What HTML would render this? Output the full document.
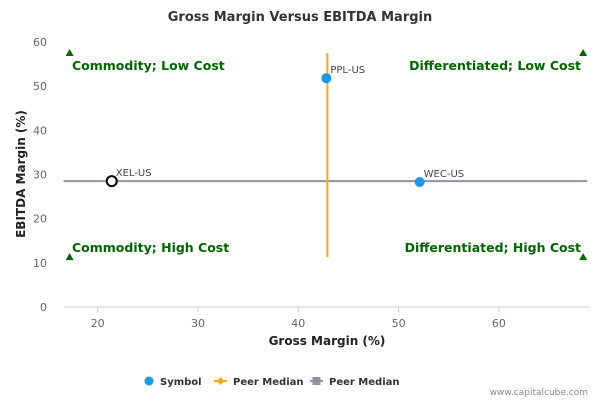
<!DOCTYPE html>
<html><head><meta charset="utf-8"><style>
body{margin:0;background:#fff}
svg{font-family:"DejaVu Sans","Liberation Sans",sans-serif}
</style></head><body>
<svg width="600" height="400" viewBox="0 0 600 400">
<rect width="600" height="400" fill="#fff"/>
<text x="300" y="21" text-anchor="middle" font-size="13" font-weight="bold" fill="#333">Gross Margin Versus EBITDA Margin</text>
<line x1="64" y1="307" x2="589" y2="307" stroke="#c0d0e0" stroke-width="1"/>
<g id="xt"></g><g id="yt"></g>
<text x="327" y="345" text-anchor="middle" font-size="12" font-weight="bold" fill="#222">Gross Margin (%)</text>
<text transform="translate(25,174) rotate(-90)" text-anchor="middle" font-size="12" font-weight="bold" fill="#222">EBITDA Margin (%)</text>
<g id="plot"></g>
<g font-size="10" font-weight="bold" fill="#333">
<g><circle cx="149" cy="381" r="4.5" fill="#1a9ae6"/><text x="160" y="385">Symbol</text></g>
<g><line x1="214" y1="381" x2="227" y2="381" stroke="#f5a623" stroke-width="2"/><path d="M220.5 377 L224.5 381 L220.5 385 L216.5 381Z" fill="#f5a623"/><text x="233" y="385">Peer Median</text></g>
<g><line x1="310" y1="381" x2="323" y2="381" stroke="#8e929e" stroke-width="2"/><rect x="312.5" y="377" width="8" height="8" fill="#8e929e"/><text x="329" y="385">Peer Median</text></g>
</g>
<text x="588" y="395" text-anchor="end" font-size="9" fill="#888">www.capitalcube.com</text>
</svg>
<script>
const xTicks=[20,30,40,50,60];
const yTicks=[0,10,20,30,40,50,60];
const symbols=["PPL-US","WEC-US","XEL-US"];
const grossMargin=[42.8,52.1,21.4];
const ebitdaMargin=[51.8,28.3,28.5];
const peerMedianGross=42.9;
const peerMedianEbitda=28.5;
const quadrantLabels=["Commodity; Low Cost","Differentiated; Low Cost","Commodity; High Cost","Differentiated; High Cost"];
const xMin=16.6,xMax=68.8,yMin=11.3,yMax=57.5;
const sx=v=>97.7+(v-20)*10.03;
const sy=v=>307-v*4.417;
const NS="http://www.w3.org/2000/svg";
function mk(t,a,p){const e=document.createElementNS(NS,t);for(const k in a)e.setAttribute(k,a[k]);p.appendChild(e);return e;}
const xt=document.getElementById('xt'),yt=document.getElementById('yt'),plot=document.getElementById('plot');
xTicks.forEach(v=>{
 const l=mk('line',{x1:sx(v),x2:sx(v),y1:307,y2:312,stroke:'#c0d0e0'},xt);
 
 
 const t=mk('text',{x:sx(v),y:327,'text-anchor':'middle','font-size':11,fill:'#666'},xt);t.textContent=v;
 
 
});
yTicks.forEach(v=>{
 const t=mk('text',{x:47,y:sy(v)+4,'text-anchor':'end','font-size':11,fill:'#666'},yt);t.textContent=v;
 
 
});
const h=mk('line',{x1:sx(xMin),x2:sx(xMax),y1:sy(peerMedianEbitda),y2:sy(peerMedianEbitda),stroke:'#8e929e','stroke-width':2},plot);


const v=mk('line',{x1:sx(peerMedianGross),x2:sx(peerMedianGross),y1:sy(yMin),y2:sy(yMax),stroke:'#f5a623','stroke-width':2},plot);


const tri=[[xMin+0.6,yMax],[xMax-0.4,yMax],[xMin+0.6,yMin],[xMax-0.4,yMin]];
tri.forEach(([a,b])=>{
 const p=mk('path',{d:`M${sx(a)} ${sy(b)-4} L${sx(a)+4} ${sy(b)+3} L${sx(a)-4} ${sy(b)+3}Z`,fill:'#006600'},plot);
 
 
});
const ql=[[72,70,'start'],[581,70,'end'],[72,252,'start'],[581,252,'end']];
quadrantLabels.forEach((s,i)=>{
 const t=mk('text',{x:ql[i][0],y:ql[i][1],'text-anchor':ql[i][2],'font-size':12.5,'font-weight':'bold',fill:'#006600'},plot);t.textContent=s;
 
 
});
symbols.forEach((s,i)=>{
 const hl=s==="XEL-US";
 const c=mk('circle',{cx:sx(grossMargin[i]),cy:sy(ebitdaMargin[i]),r:5,fill:hl?'#fff':'#1a9ae6',stroke:hl?'#000':'none','stroke-width':2},plot);
 
 
 const t=mk('text',{x:sx(grossMargin[i])+4,y:sy(ebitdaMargin[i])-5,'font-size':10,fill:'#444'},plot);t.textContent=s;
 
 
});
</script>
</body></html>
